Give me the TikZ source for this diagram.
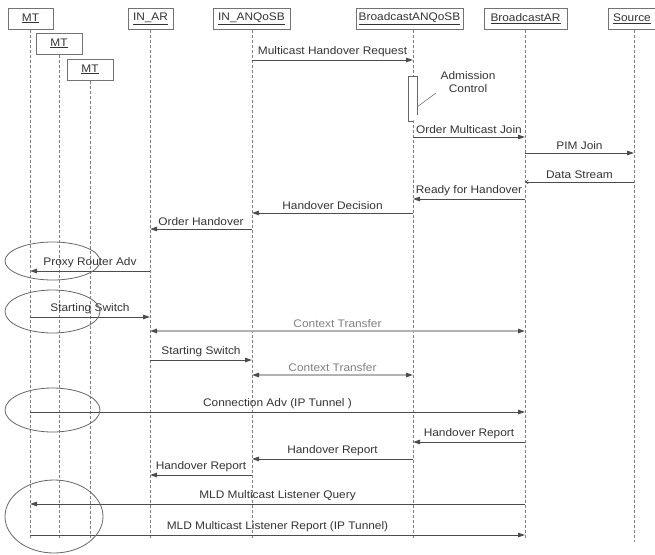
\documentclass[tikz,border=0pt]{standalone}
\usepackage{fontspec}
\setmainfont{Liberation Sans}[FakeStretch=1.08]
\usetikzlibrary{arrows.meta}
\begin{document}
\begin{tikzpicture}[x=1pt,y=-1pt,
  head/.style={draw=black!55, line width=1pt, fill=white, inner sep=0pt, minimum height=21pt, font=\fontsize{11}{12}\selectfont, text=black!80},
  life/.style={draw=black!50, dash pattern=on 3pt off 2pt, line width=0.7pt},
  msg/.style={draw=black!70, line width=0.9pt, -{Triangle[length=7pt,width=4.5pt]}},
  async/.style={draw=black!70, line width=0.7pt, -{Straight Barb[length=2.5pt,width=3.5pt]}},
  ctx/.style={draw=black!30, line width=1.4pt, {Triangle[length=7pt,width=4.5pt,color=black!70]}-{Triangle[length=7pt,width=4.5pt,color=black!70]}},
  lbl/.style={midway, above=3pt, inner sep=0pt, font=\fontsize{11}{12}\selectfont, text=black!80},
  clbl/.style={lbl, text=black!50},
  grp/.style={draw=black!60, line width=0.8pt}]
\useasboundingbox (0,0) rectangle (655,554);
% lifeline axes
\coordinate (lMTa) at (30,0);
\coordinate (lMTb) at (59,0);
\coordinate (lMTc) at (90,0);
\coordinate (lAR) at (150,0);
\coordinate (lANQ) at (252,0);
\coordinate (lBNQ) at (413,0);
\coordinate (lBAR) at (525,0);
\coordinate (lSRC) at (634,0);
% heads
\node[head, minimum width=45pt] (hMTa) at (30.5,18.5) {\underline{MT}};
\node[head, minimum width=46pt] (hMTb) at (59,43.5) {\underline{MT}};
\node[head, minimum width=46pt] (hMTc) at (90,69.5) {\underline{MT}};
\node[head, minimum width=45pt] (hAR) at (150.5,18.5) {\underline{IN\_AR}};
\node[head, minimum width=77pt] (hANQ) at (251.5,18.5) {\underline{IN\_ANQoSB}};
\node[head, minimum width=107pt] (hBNQ) at (409.5,18.5) {\underline{BroadcastANQoSB}};
\node[head, minimum width=83pt] (hBAR) at (525.5,18.5) {\underline{BroadcastAR}};
\node[head, minimum width=47pt] (hSRC) at (632,18.5) {\underline{Source}};
% lifelines
\draw[life] (lMTa |- hMTa.south) -- (lMTa |- 0,538);
\draw[life] (lMTb |- hMTb.south) -- (lMTb |- 0,538);
\draw[life] (lMTc |- hMTc.south) -- (lMTc |- 0,538);
\draw[life] (lAR |- hAR.south) -- (lAR |- 0,538);
\draw[life] (lANQ |- hANQ.south) -- (lANQ |- 0,538);
\draw[life] (lBNQ |- hBNQ.south) -- (lBNQ |- 0,538);
\draw[life] (lBAR |- hBAR.south) -- (lBAR |- 0,538);
\draw[life] (lSRC |- hSRC.south) -- (lSRC |- 0,542);
% activation
\draw[draw=black!60, line width=0.8pt, fill=white] (417,115) -- (417,76) -- (408,76) -- (408,121) -- (413,121);
\node[font=\fontsize{11}{13}\selectfont, text=black!80, align=center, inner sep=0pt] (adm) at (468,82) {Admission\\Control};
\draw[draw=black!55, line width=0.6pt] (436,93) -- (417,107);
% messages
\draw[msg] (lANQ |- 0,60) -- node[lbl] {Multicast Handover Request} (lBNQ |- 0,60);
\draw[msg] (lBNQ |- 0,137) -- node[lbl] {Order Multicast Join} (lBAR |- 0,137);
\draw[msg] (lBAR |- 0,153) -- node[lbl] {PIM Join} (lSRC |- 0,153);
\draw[async] (lSRC |- 0,182) -- node[lbl] {Data Stream} (lBAR |- 0,182);
\draw[msg] (lBAR |- 0,199) -- node[lbl] {Ready for Handover} (lBNQ |- 0,199);
\draw[msg] (lBNQ |- 0,213) -- node[lbl] {Handover Decision} (lANQ |- 0,213);
\draw[msg] (lANQ |- 0,229) -- node[lbl] {Order Handover} (lAR |- 0,229);
\draw[msg] (lAR |- 0,271) -- node[lbl] {Proxy Router Adv} (lMTa |- 0,271);
\draw[msg] (lMTa |- 0,317) -- node[lbl] {Starting Switch} (lAR |- 0,317);
\draw[ctx] (lAR |- 0,331) -- node[clbl] {Context Transfer} (lBAR |- 0,331);
\draw[msg] (lAR |- 0,360) -- node[lbl] {Starting Switch} (lANQ |- 0,360);
\draw[ctx] (lANQ |- 0,375) -- node[clbl] {Context Transfer} (lBNQ |- 0,375);
\draw[msg] (lMTa |- 0,412) -- node[lbl] {Connection Adv (IP Tunnel )} (lBAR |- 0,412);
\draw[msg] (lBAR |- 0,442) -- node[lbl] {Handover Report} (lBNQ |- 0,442);
\draw[msg] (lBNQ |- 0,459) -- node[lbl] {Handover Report} (lANQ |- 0,459);
\draw[msg] (lANQ |- 0,475) -- node[lbl] {Handover Report} (lAR |- 0,475);
\draw[msg] (lBAR |- 0,504) -- node[lbl] {MLD Multicast Listener Query} (lMTa |- 0,504);
\draw[msg] (lMTa |- 0,535) -- node[lbl] {MLD Multicast Listener Report (IP Tunnel)} (lBAR |- 0,535);
% group ellipses
\draw[grp] (52.5,261) ellipse [x radius=47.5, y radius=19];
\draw[grp] (52.5,311.5) ellipse [x radius=47.5, y radius=21.5];
\draw[grp] (52.5,410) ellipse [x radius=47.5, y radius=22];
\draw[grp] (54,516.5) ellipse [x radius=49, y radius=36.5];
\end{tikzpicture}
\end{document}
